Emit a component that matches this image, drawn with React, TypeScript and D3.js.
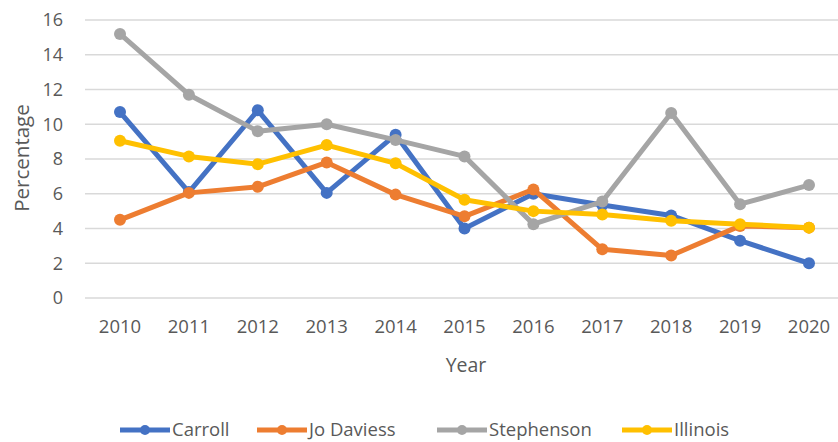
import React from "react";
import * as d3 from "d3";

const years = ["2010","2011","2012","2013","2014","2015","2016","2017","2018","2019","2020"];
const yTicks = [0, 2, 4, 6, 8, 10, 12, 14, 16];
const carroll = [10.7, 6.1, 10.8, 6.05, 9.4, 4.0, 6.0, 5.35, 4.75, 3.3, 2.0];
const joDaviess = [4.5, 6.05, 6.4, 7.8, 5.95, 4.7, 6.25, 2.8, 2.45, 4.15, 4.05];
const stephenson = [15.2, 11.7, 9.6, 10.0, 9.1, 8.15, 4.25, 5.55, 10.65, 5.4, 6.5];
const illinois = [9.05, 8.15, 7.7, 8.8, 7.75, 5.65, 5.0, 4.8, 4.45, 4.25, 4.05];

const seriesNames = ["Carroll", "Jo Daviess", "Stephenson", "Illinois"];
const seriesData = [carroll, joDaviess, stephenson, illinois];
const colors = ["#4472C4", "#ED7D31", "#A5A5A5", "#FFC000"];

const W = 838, H = 442;
const FONT = "'Open Sans', 'Noto Sans', sans-serif";
const TXT = "#595959";

export default function App() {
  const x = d3.scalePoint<string>().domain(years).range([120, 809]);
  const y = d3.scaleLinear().domain([0, 16]).range([298, 20]);
  const line = d3.line<number>().x((_, i) => x(years[i]) as number).y((d) => y(d));
  const legendX = [120, 257, 437, 622];

  return (
    <svg width={W} height={H} style={{ position: "absolute", left: 0, top: 0, background: "#fff" }}>
      {yTicks.map((t) => (
        <g key={t}>
          <line x1={85} x2={W} y1={y(t)} y2={y(t)} stroke="#D9D9D9" strokeWidth={1.5} />
          <text x={63} y={y(t)} dy="0.35em" textAnchor="end" fontFamily={FONT} fontSize={18} fill={TXT}>{t}</text>
        </g>
      ))}
      {years.map((yr) => (
        <text key={yr} x={x(yr)} y={327} dy="0.35em" textAnchor="middle" fontFamily={FONT} fontSize={18.5} fill={TXT}>{yr}</text>
      ))}
      <text x={466} y={365} dy="0.35em" textAnchor="middle" fontFamily={FONT} fontSize={19.5} fill={TXT}>Year</text>
      <text transform="translate(22,158) rotate(-90)" dy="0.35em" textAnchor="middle" fontFamily={FONT} fontSize={20.5} fill={TXT}>Percentage</text>
      {seriesData.map((s, k) => (
        <g key={seriesNames[k]}>
          <path d={line(s) || ""} fill="none" stroke={colors[k]} strokeWidth={5} strokeLinejoin="round" strokeLinecap="round" />
          {s.map((v, i) => (
            <circle key={i} cx={x(years[i])} cy={y(v)} r={6} fill={colors[k]} />
          ))}
        </g>
      ))}
      {seriesNames.map((n, k) => (
        <g key={n} transform={`translate(${legendX[k]},430)`}>
          <line x1={0} x2={50} y1={0} y2={0} stroke={colors[k]} strokeWidth={5} />
          <circle cx={25} cy={0} r={5} fill={colors[k]} />
          <text x={52} y={0} dy="0.35em" fontFamily={FONT} fontSize={18.5} fill={TXT}>{n}</text>
        </g>
      ))}
    </svg>
  );
}
